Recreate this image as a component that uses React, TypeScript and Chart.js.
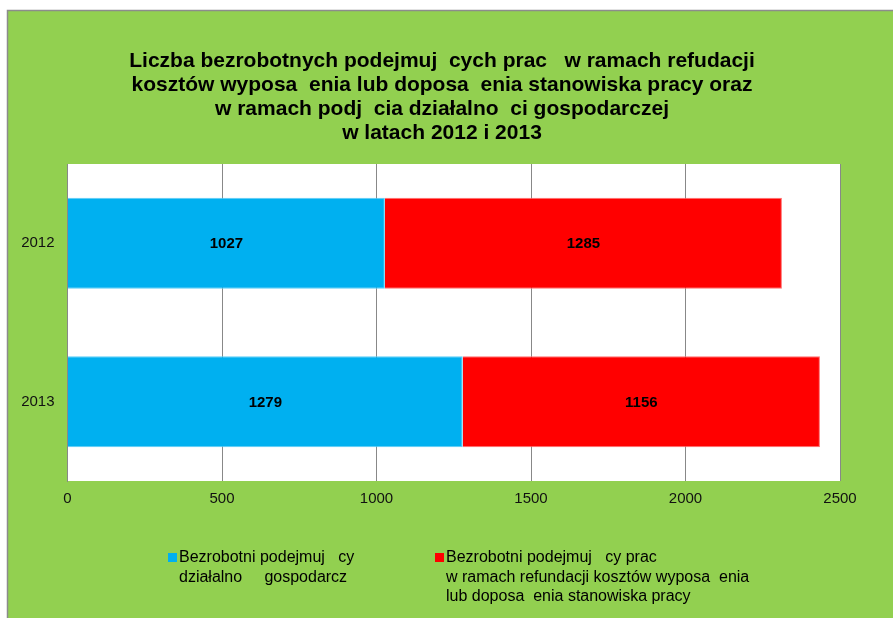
import React, { useEffect, useRef } from "react";
import { Chart, registerables } from "chart.js";

Chart.register(...registerables);

const categories = ["2012", "2013"];
const dzialalnosc = [1027, 1279];
const refundacja = [1285, 1156];
const xTicks = [0, 500, 1000, 1500, 2000, 2500];

const titleLines = [
  "Liczba bezrobotnych podejmuj  cych prac   w ramach refudacji",
  "kosztów wyposa  enia lub doposa  enia stanowiska pracy oraz",
  "w ramach podj  cia działalno  ci gospodarczej",
  "w latach 2012 i 2013",
];
const legendBlue = ["Bezrobotni podejmuj   cy", "działalno     gospodarcz"];
const legendRed = [
  "Bezrobotni podejmuj   cy prac",
  "w ramach refundacji kosztów wyposa  enia",
  "lub doposa  enia stanowiska pracy",
];

const GREEN = "#92d050";
const BLUE = "#00b0f0";
const RED = "#ff0000";
const FONT = "'Liberation Sans', Arial, sans-serif";

const decorPlugin = {
  id: "decor",
  beforeDraw(chart: any) {
    const ctx = chart.ctx;
    const w = chart.width;
    const h = chart.height;
    ctx.save();
    ctx.fillStyle = "#ffffff";
    ctx.fillRect(0, 0, w, h);
    ctx.fillStyle = GREEN;
    ctx.fillRect(7, 10, w - 7, h - 10);
    ctx.strokeStyle = "#8c8c8c";
    ctx.lineWidth = 1.5;
    ctx.beginPath();
    ctx.moveTo(7.5, h);
    ctx.lineTo(7.5, 10.5);
    ctx.lineTo(w, 10.5);
    ctx.stroke();
    const a = chart.chartArea;
    ctx.fillStyle = "#ffffff";
    ctx.fillRect(a.left, a.top, a.right - a.left, a.bottom - a.top);
    ctx.restore();
  },
  afterDraw(chart: any) {
    const ctx = chart.ctx;
    ctx.save();
    // Title
    ctx.fillStyle = "#000";
    ctx.font = `bold 21px ${FONT}`;
    ctx.textAlign = "center";
    ctx.textBaseline = "middle";
    titleLines.forEach((line, i) => {
      ctx.fillText(line, 442, 61 + i * 24);
    });
    // Data labels
    ctx.font = `bold 15px ${FONT}`;
    chart.data.datasets.forEach((ds: any, di: number) => {
      const meta = chart.getDatasetMeta(di);
      meta.data.forEach((bar: any, i: number) => {
        const p = bar.getProps(["x", "y", "base"], true);
        const cx = (p.x + p.base) / 2;
        ctx.fillText(String(ds.data[i]), cx, p.y + 1);
      });
    });
    // Legend
    ctx.font = `16px ${FONT}`;
    ctx.textAlign = "left";
    ctx.fillStyle = BLUE;
    ctx.fillRect(168, 553, 9, 9);
    ctx.fillStyle = RED;
    ctx.fillRect(435, 553, 9, 9);
    ctx.fillStyle = "#000";
    legendBlue.forEach((line, i) => ctx.fillText(line, 179, 558 + i * 19.5));
    legendRed.forEach((line, i) => ctx.fillText(line, 446, 558 + i * 19.5));
    ctx.restore();
  },
};

export default function App() {
  const ref = useRef<HTMLCanvasElement>(null);
  useEffect(() => {
    document.body.style.margin = "0";
    const chart = new Chart(ref.current!, {
      type: "bar",
      data: {
        labels: categories,
        datasets: [
          {
            label: "Bezrobotni podejmujący działalność gospodarczą",
            data: dzialalnosc,
            backgroundColor: BLUE,
            borderColor: "#5ccdf6",
            borderWidth: 1,
            barPercentage: 0.574,
            categoryPercentage: 1,
          },
          {
            label: "Bezrobotni podejmujący pracę w ramach refundacji",
            data: refundacja,
            backgroundColor: RED,
            borderColor: "#ff7070",
            borderWidth: 1,
            barPercentage: 0.574,
            categoryPercentage: 1,
          },
        ],
      },
      options: {
        indexAxis: "y",
        responsive: false,
        animation: false,
        maintainAspectRatio: false,
        layout: { padding: { left: 0, right: 53, top: 164, bottom: 0 } },
        plugins: {
          legend: { display: false },
          title: { display: false },
          tooltip: { enabled: false },
        },
        scales: {
          x: {
            stacked: true,
            min: 0,
            max: 2500,
            afterBuildTicks: (scale: any) => {
              scale.ticks = xTicks.map((v) => ({ value: v }));
            },
            afterFit: (scale: any) => {
              scale.height = 137;
            },
            grid: { color: "#888888", lineWidth: 1, drawTicks: false },
            border: { display: false },
            ticks: {
              padding: 9,
              color: "#111",
              font: { family: FONT, size: 15 },
              callback: (v: any) => String(v),
            },
          },
          y: {
            stacked: true,
            afterFit: (scale: any) => {
              scale.width = 67.5;
            },
            grid: { display: false, drawTicks: false },
            border: { display: true, color: "#888888", width: 1 },
            ticks: {
              padding: 13,
              color: "#111",
              font: { family: FONT, size: 15 },
            },
          },
        },
      },
      plugins: [decorPlugin],
    });
    return () => chart.destroy();
  }, []);
  return (
    <div style={{ width: 893, height: 618 }}>
      <canvas ref={ref} width={893} height={618} style={{ display: "block" }} />
    </div>
  );
}
